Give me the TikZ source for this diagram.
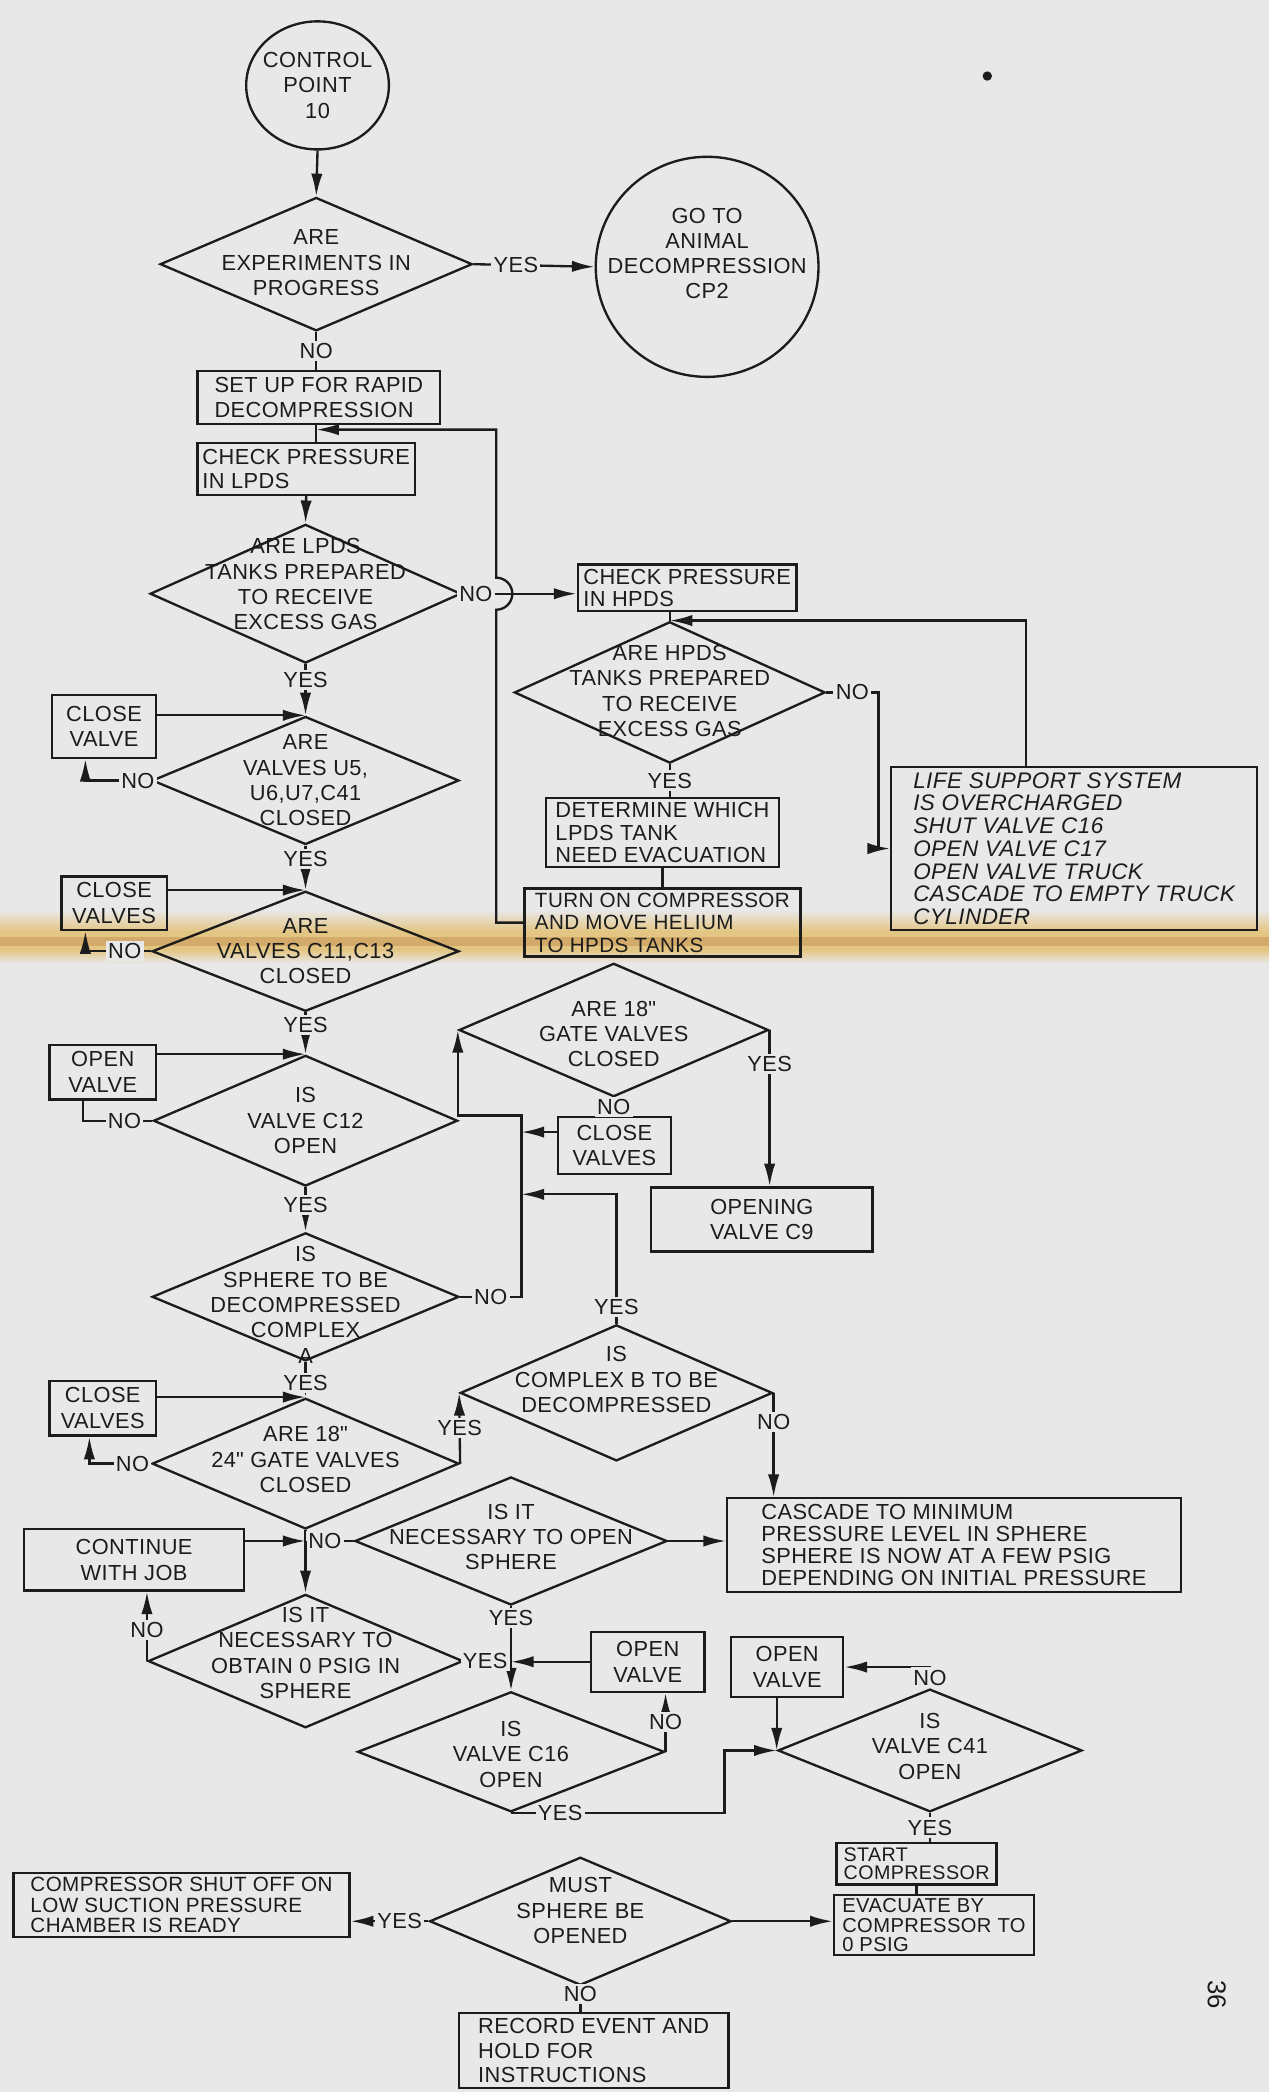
\documentclass[tikz,border=0pt]{standalone}
\usepackage{fontspec}
\setmainfont{Liberation Sans}[LetterSpace=2.0]
\usepackage{tikz,xcolor}
\usetikzlibrary{arrows.meta,shapes.geometric}

\definecolor{bg}{RGB}{232,232,232}
\definecolor{ink}{RGB}{28,28,28}
\definecolor{stain}{RGB}{228,198,132}
\definecolor{stainb}{RGB}{200,152,88}

\begin{document}
\begin{tikzpicture}[x=0.02cm,y=-0.02cm,line width=1pt,color=ink,
  txt/.style={inner sep=0pt,align=center,font=\fontsize{9.3}{10.8}\selectfont},
  box/.style={draw,rectangle,inner sep=0pt,align=left,font=\fontsize{9.3}{10.4}\selectfont},
  sbox/.style={draw,rectangle,inner sep=0pt,align=center,font=\fontsize{9.3}{11}\selectfont},
  dec/.style={draw,diamond,inner sep=0pt},
  term/.style={draw,ellipse,inner sep=0pt},
  lbl/.style={fill=bg,inner sep=1pt,font=\fontsize{9.3}{10}\selectfont},
  arr/.style={-{Latex[length=3.4mm,width=1.7mm]}}]

\fill[bg] (0,0) rectangle (951,1568);
\useasboundingbox (0,0) rectangle (951,1568);

%stain across the sheet
\shade[top color=bg,bottom color=stain] (0,682) rectangle (951,698);
\fill[stain] (0,698) rectangle (951,712);
\fill[stainb,opacity=0.6] (0,702) rectangle (951,709);
\shade[top color=stain,bottom color=bg] (0,712) rectangle (951,722);
\fill (740,57) circle[radius=2pt];

%start
\node[term,minimum width=2.14cm,minimum height=1.92cm] (cp10) at (238,64) {};
\node[txt] (cp10t) at (238,64) {CONTROL\\POINT\\10};
\node[term,minimum width=3.34cm,minimum height=3.30cm] (cp2) at (530,200) {};
\node[txt] (cp2t) at (530,190) {GO TO\\ANIMAL\\DECOMPRESSION\\CP2};

%decisions
\node[dec,minimum width=4.68cm,minimum height=2.00cm] (d1) at (237,198) {};
\node[txt] (d1t) at (237,197) {ARE\\EXPERIMENTS IN\\PROGRESS};
\node[dec,minimum width=4.66cm,minimum height=2.08cm] (d2) at (229,445) {};
\node[txt] (d2t) at (229,438) {ARE LPDS\\TANKS PREPARED\\TO RECEIVE\\EXCESS GAS};
\node[dec,minimum width=4.66cm,minimum height=2.12cm] (d3) at (502,519) {};
\node[txt] (d3t) at (502,518) {ARE HPDS\\TANKS PREPARED\\TO RECEIVE\\EXCESS GAS};
\node[dec,minimum width=4.60cm,minimum height=1.92cm] (d4) at (229,585) {};
\node[txt] (d4t) at (229,585) {ARE\\VALVES U5,\\U6,U7,C41\\CLOSED};
\node[dec,minimum width=4.60cm,minimum height=1.80cm] (d5) at (229,713) {};
\node[txt] (d5t) at (229,713) {ARE\\VALVES C11,C13\\CLOSED};
\node[dec,minimum width=4.56cm,minimum height=1.96cm] (d6) at (229,840) {};
\node[txt] (d6t) at (229,840) {IS\\VALVE C12\\OPEN};
\node[dec,minimum width=4.60cm,minimum height=1.92cm] (d7) at (229,972) {};
\node[txt] (d7t) at (229,978) {IS\\SPHERE TO BE\\DECOMPRESSED\\COMPLEX\\A};
\node[dec,minimum width=4.64cm,minimum height=2.00cm] (d8) at (460,772) {};
\node[txt] (d8t) at (460,775) {ARE 18\textquotedbl\\GATE VALVES\\CLOSED};
\node[dec,minimum width=4.68cm,minimum height=2.04cm] (d9) at (462,1044) {};
\node[txt] (d9t) at (462,1034) {IS\\COMPLEX B TO BE\\DECOMPRESSED};
\node[dec,minimum width=4.60cm,minimum height=1.96cm] (d10) at (229,1097) {};
\node[txt] (d10t) at (229,1094) {ARE 18\textquotedbl\\24\textquotedbl\ GATE VALVES\\CLOSED};
\node[dec,minimum width=4.68cm,minimum height=1.92cm] (d11) at (383,1155) {};
\node[txt] (d11t) at (383,1152) {IS IT\\NECESSARY TO OPEN\\SPHERE};
\node[dec,minimum width=4.72cm,minimum height=2.00cm] (d12) at (229,1245) {};
\node[txt] (d12t) at (229,1239) {IS IT\\NECESSARY TO\\OBTAIN 0 PSIG IN\\SPHERE};
\node[dec,minimum width=4.60cm,minimum height=1.80cm] (d13) at (383,1313) {};
\node[txt] (d13t) at (383,1315) {IS\\VALVE C16\\OPEN};
\node[dec,minimum width=4.56cm,minimum height=1.84cm] (d14) at (697,1312) {};
\node[txt] (d14t) at (697,1309) {IS\\VALVE C41\\OPEN};
\node[dec,minimum width=4.52cm,minimum height=1.92cm] (d15) at (435,1440) {};
\node[txt] (d15t) at (435,1432) {MUST\\SPHERE BE\\OPENED};

%boxes
\node[box,minimum width=3.64cm,minimum height=0.80cm] (setup) at (239,298) {SET UP FOR RAPID\\DECOMPRESSION};
\node[box,minimum width=3.26cm,minimum height=0.78cm] (chkL) at (229.5,351.5) {CHECK PRESSURE\\IN LPDS};
\node[box,minimum width=3.28cm,minimum height=0.70cm,font=\fontsize{9.3}{9.4}\selectfont] (chkH) at (515,440.5) {CHECK PRESSURE\\IN HPDS};
\node[box,minimum width=5.48cm,minimum height=2.44cm,font=\fontsize{9.6}{9.7}\selectfont\itshape] (life) at (805,636)
  {LIFE SUPPORT SYSTEM\\IS OVERCHARGED\\SHUT VALVE C16\\OPEN VALVE C17\\OPEN VALVE TRUCK\\CASCADE TO EMPTY TRUCK\\CYLINDER};
\node[box,minimum width=3.50cm,minimum height=1.04cm,font=\fontsize{9.3}{9.6}\selectfont] (det) at (496.5,624) {DETERMINE WHICH\\LPDS TANK\\NEED EVACUATION};
\node[box,minimum width=4.14cm,minimum height=1.02cm,font=\fontsize{8.8}{9.6}\selectfont] (turn) at (496.5,691.5) {TURN ON COMPRESSOR\\AND MOVE HELIUM\\TO HPDS TANKS};
\node[sbox,minimum width=1.56cm,minimum height=0.94cm] (cv1) at (78,544.5) {CLOSE\\VALVE};
\node[sbox,minimum width=1.58cm,minimum height=0.80cm] (cv2) at (85.5,677) {CLOSE\\VALVES};
\node[sbox,minimum width=1.60cm,minimum height=0.82cm] (ov1) at (77,803.5) {OPEN\\VALVE};
\node[sbox,minimum width=1.70cm,minimum height=0.86cm] (cv3) at (460.5,858.5) {CLOSE\\VALVES};
\node[sbox,minimum width=3.32cm,minimum height=0.96cm] (op9) at (571,914) {OPENING\\VALVE C9};
\node[box,minimum width=6.80cm,minimum height=1.40cm,font=\fontsize{9.3}{9.5}\selectfont] (casc) at (715,1158)
  {CASCADE TO MINIMUM\\PRESSURE LEVEL IN SPHERE\\SPHERE IS NOW AT A FEW PSIG\\DEPENDING ON INITIAL PRESSURE};
\node[sbox,minimum width=1.60cm,minimum height=0.82cm] (cv4) at (77,1055.5) {CLOSE\\VALVES};
\node[sbox,minimum width=3.30cm,minimum height=0.92cm] (cont) at (100.5,1169) {CONTINUE\\WITH JOB};
\node[sbox,minimum width=1.70cm,minimum height=0.90cm] (ov2) at (485.5,1245.5) {OPEN\\VALVE};
\node[sbox,minimum width=1.68cm,minimum height=0.90cm] (ov3) at (590,1249.5) {OPEN\\VALVE};
\node[box,minimum width=2.40cm,minimum height=0.62cm,font=\fontsize{8.4}{7.8}\selectfont] (start) at (687,1397) {START\\COMPRESSOR};
\node[box,minimum width=3.00cm,minimum height=0.90cm,font=\fontsize{8.6}{8.2}\selectfont] (evac) at (700,1443) {EVACUATE BY\\COMPRESSOR TO\\0 PSIG};
\node[box,minimum width=5.04cm,minimum height=0.96cm,font=\fontsize{8.8}{8.8}\selectfont] (comp) at (136,1428) {COMPRESSOR SHUT OFF ON\\LOW SUCTION PRESSURE\\CHAMBER IS READY};
\node[box,minimum width=4.04cm,minimum height=1.12cm] (rec) at (445,1537) {RECORD EVENT AND\\HOLD FOR\\INSTRUCTIONS};
\node[rotate=-90,font=\fontsize{11}{13}\selectfont] (pg) at (912,1495) {36};

%top part
\draw[arr] (cp10.south) -- (d1.north);
\draw[arr] (d1.east) -- node[lbl,pos=0.35]{YES} (cp2.west);
\draw (d1.south) -- node[lbl]{NO} (d1.south |- setup.north);
\draw (setup.south -| d1.south) -- (chkL.north -| d1.south);
\draw[arr] (chkL.south) -- (d2.north);
\coordinate (lp) at (372,322);
\draw[arr] (turn.west) -| ([yshift=-0.24cm]lp |- d2.east) arc[start angle=-90,end angle=90,radius=0.24cm] -- (lp) -- (lp -| d1.south);
\draw[arr] (d2.east) -- node[lbl,pos=0.12]{NO} (d2.east -| chkH.west);

%HPDS loop
\draw (chkH.south -| d3.north) -- (d3.north);
\draw[arr] (life.north west) ++(102,0) |- (d3.north);
\draw[arr] (d3.east) -- node[lbl]{NO} ++(39,0) |- (life.west);
\draw (d3.south) -- node[lbl]{YES} (d3.south |- det.north);
\draw (det.south) -- (turn.north);

%valves column
\draw[arr] (d2.south) -- node[lbl,pos=0.3]{YES} (d4.north);
\draw[arr] (cv1.east |- d4.north) -- (d4.north);
\draw[arr] (d4.west) -- node[lbl,pos=0.2]{NO} ([xshift=-0.28cm]cv1.south |- d4.west) -- ([xshift=-0.28cm]cv1.south);
\draw[arr] (d4.south) -- node[lbl,pos=0.3]{YES} (d5.north);
\draw[arr] (cv2.east |- d5.north) -- (d5.north);
\draw[arr] (d5.west) -- node[lbl,pos=0.4]{NO} ([xshift=-0.43cm]cv2.south |- d5.west) -- ([xshift=-0.43cm]cv2.south);
\draw[arr] (d5.south) -- node[lbl,pos=0.3]{YES} (d6.north);
\draw[arr] (ov1.east |- d6.north) -- (d6.north);
\draw (d6.west) -- node[lbl,pos=0.4]{NO} ([xshift=-0.3cm]ov1.south |- d6.west) -- ([xshift=-0.3cm]ov1.south);
\draw[arr] (d6.south) -- node[lbl,pos=0.4]{YES} (d7.north);

%gate valves
\coordinate (bus) at ([xshift=0.92cm]d7.east);
\coordinate (c3in) at ([yshift=0.2cm]cv3.west);
\coordinate (c9up) at ([yshift=1.94cm]d9.north);
\draw[arr] (d7.east) -- node[lbl]{NO} (bus) |- ([yshift=-1.28cm]d8.west) -- (d8.west);
\draw[arr] (c3in) -- (bus |- c3in);
\draw[arr] (d9.north) -- node[lbl,pos=0.13]{YES} (c9up) -- (bus |- c9up);
\draw (d8.south) -- node[lbl]{NO} (cv3.north -| d8.south);
\draw[arr] (d8.east) -- node[lbl,pos=0.22]{YES} (d8.east |- op9.north);
\draw[arr] (d9.east) -- node[lbl,pos=0.28]{NO} (d9.east |- casc.north);
\draw[arr] (d7.south) -- node[lbl,pos=0.6]{YES} (d10.north);
\draw[arr] (cv4.east |- d10.north) -- (d10.north);
\draw[arr] (d10.west) -- node[lbl,pos=0.3]{NO} ([xshift=-0.2cm]cv4.south |- d10.west) -- ([xshift=-0.2cm]cv4.south);
\draw[arr] (d10.east) -- node[lbl]{YES} (d9.west);

%open sphere
\coordinate (jn) at (d10.south |- d11.west);
\draw (d10.south) -- (jn);
\draw[arr] (cont.east |- jn) -- (jn);
\draw (d11.west) -- node[lbl,pos=0.6]{NO} (jn);
\draw[arr] (jn) -- (d12.north);
\draw[arr] (d11.east) -- (d11.east -| casc.west);
\draw[arr] (d11.south) -- node[lbl,pos=0.14]{YES} (d13.north);
\draw (d12.east) -- node[lbl,pos=0.45]{YES} (d12.east -| d13.north);
\draw[arr] (ov2.west) -- (ov2.west -| d13.north);
\draw[arr] (d12.west) -- node[lbl,pos=0.45]{NO} (d12.west |- cont.south);
\draw[arr] (d13.east) -- node[lbl]{NO} (d13.east |- ov2.south);
\draw[arr] (d13.south) -- node[lbl,pos=0.23]{YES} ++(160,0) |- (d14.west);
\draw[arr] (d14.west |- ov3.south) -- (d14.west);
\draw[arr] (d14.north) |- node[lbl,pos=0.25]{NO} (ov3.east);
\draw (d14.south) -- node[lbl]{YES} (d14.south |- start.north);
\draw (start.south) -- (start.south |- evac.north);

%last question
\draw[arr] (d15.east) -- (d15.east -| evac.west);
\draw[arr] (d15.west) -- node[lbl,pos=0.37]{YES} (d15.west -| comp.east);
\draw (d15.south) -- node[lbl,pos=0.3]{NO} (d15.south |- rec.north);

\end{tikzpicture}
\end{document}
